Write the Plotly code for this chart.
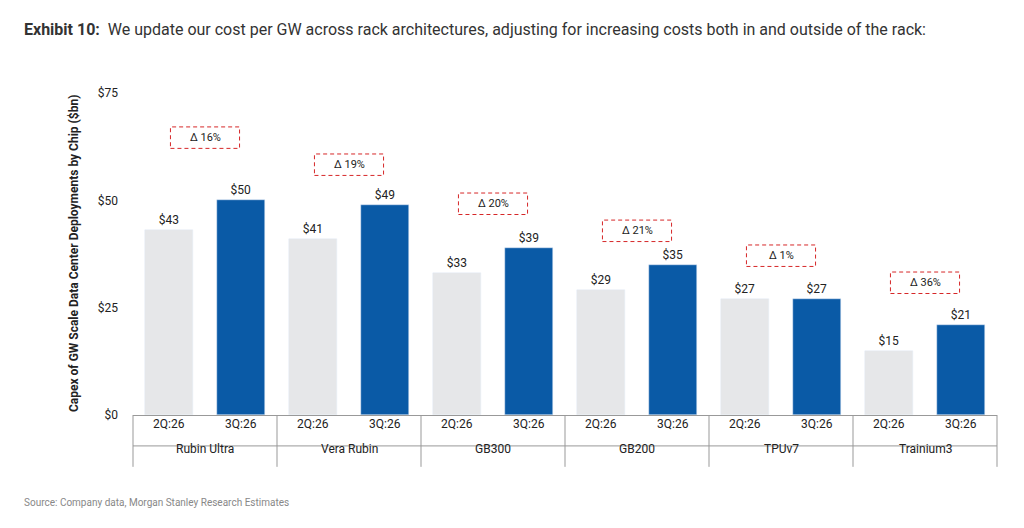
import plotly.graph_objects as go

chips = ["Rubin Ultra", "Vera Rubin", "GB300", "GB200", "TPUv7", "Trainium3"]
q2_vals = [43, 41, 33, 29, 27, 15]
q3_vals = [50, 49, 39, 35, 27, 21]
deltas = ["Δ 16%", "Δ 19%", "Δ 20%", "Δ 21%", "Δ 1%", "Δ 36%"]
delta_y = [64.6, 58.3, 49.2, 42.9, 37.1, 30.8]
period_labels = ["2Q:26", "3Q:26"]

LIGHT = "#e6e7e9"
BLUE = "#0a5aa6"
FONT = "Roboto"

idx = list(range(len(chips)))
fig = go.Figure()
fig.add_trace(go.Bar(
    x=[i - 0.25 for i in idx], y=q2_vals, width=0.34, marker_color=LIGHT,
    text=[f"${v}" for v in q2_vals], textposition="outside",
    textfont=dict(size=12, color="#222"), cliponaxis=False, name="2Q:26"))
fig.add_trace(go.Bar(
    x=[i + 0.25 for i in idx], y=q3_vals, width=0.34, marker_color=BLUE,
    text=[f"${v}" for v in q3_vals], textposition="outside",
    textfont=dict(size=12, color="#222"), cliponaxis=False, name="3Q:26"))

shapes = []
annotations = []
n = len(chips)
for i in idx:
    # dashed delta box
    shapes.append(dict(type="rect", xref="x", yref="y",
                       x0=i - 0.24, x1=i + 0.24, y0=delta_y[i] - 2.5, y1=delta_y[i] + 2.5,
                       line=dict(color="#d62728", width=1, dash="4px,3px"), fillcolor="white"))
    annotations.append(dict(x=i, y=delta_y[i], xref="x", yref="y", text=deltas[i],
                            showarrow=False, font=dict(size=11, color="#222")))
    # category labels
    for j, off in enumerate([-0.25, 0.25]):
        annotations.append(dict(x=i + off, y=-0.056, xref="x", yref="paper",
                                text=period_labels[j], showarrow=False,
                                font=dict(size=12, color="#222")))
    annotations.append(dict(x=i, y=-0.134, xref="x", yref="paper", text=chips[i],
                            showarrow=False, font=dict(size=12, color="#222")))
for k in range(n + 1):
    shapes.append(dict(type="line", xref="paper", yref="paper", x0=k / n, x1=k / n,
                       y0=0, y1=-0.161, line=dict(color="#999", width=1)))
shapes.append(dict(type="line", xref="paper", yref="paper", x0=0, x1=1,
                   y0=-0.096, y1=-0.096, line=dict(color="#999", width=1)))

# page-level texts, positioned relative to the plot area (left 133px, bottom 415px on screen)
annotations.append(dict(x=(22 - 133) / 864, y=(415 - 18) / 322, xref="paper", yref="paper",
                        xanchor="left",
                        text="<b>Exhibit 10:</b>  We update our cost per GW across rack architectures, adjusting for increasing costs both in and outside of the rack:",
                        showarrow=False, font=dict(size=16, color="#333")))
annotations.append(dict(x=(22 - 133) / 864, y=(415 - 510) / 322, xref="paper", yref="paper",
                        xanchor="left",
                        text="Source: Company data, Morgan Stanley Research Estimates",
                        showarrow=False, font=dict(size=10, color="#888")))
annotations.append(dict(x=(65 - 133) / 864, y=(415 - 254) / 322, xref="paper", yref="paper",
                        text="<b>Capex of GW Scale Data Center Deployments by Chip ($bn)</b>",
                        textangle=-90, showarrow=False, font=dict(size=12, color="#222")))

fig.update_layout(
    width=1024, height=528, margin=dict(l=125, r=35, t=85, b=121),
    plot_bgcolor="white", paper_bgcolor="white", showlegend=False,
    font=dict(family=FONT, color="#222"), bargap=0,
    xaxis=dict(range=[-0.5, n - 0.5], showticklabels=False, showgrid=False,
               zeroline=False, showline=True, linecolor="#999"),
    yaxis=dict(range=[0, 75], tickvals=[0, 25, 50, 75],
               ticktext=["$0", "$25", "$50", "$75"], showgrid=False, zeroline=False,
               tickfont=dict(size=12), ticks="", ticklabelstandoff=14),
    shapes=shapes, annotations=annotations)

fig.write_html("out.html")
